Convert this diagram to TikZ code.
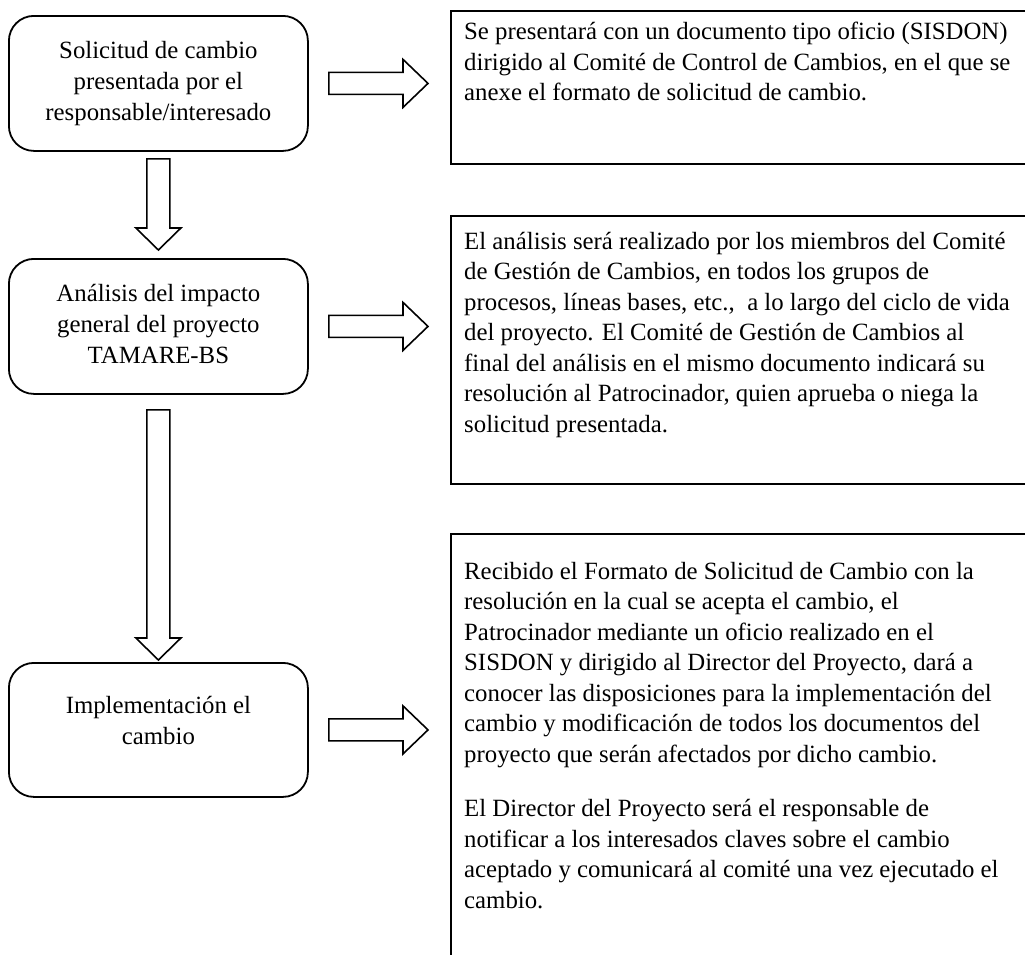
\documentclass[tikz,border=0pt]{standalone}
\usepackage{fontspec}
\setmainfont{Liberation Serif}
\usetikzlibrary{calc}
\newcommand{\blockH}[2]{\draw[blk] ($(#1)+(0,-11)$) -- ($(#2)+(-25,-11)$) -- ($(#2)+(-25,-24)$) -- (#2) -- ($(#2)+(-25,24)$) -- ($(#2)+(-25,11)$) -- ($(#1)+(0,11)$) -- cycle;}
\newcommand{\blockV}[2]{\draw[blk] ($(#1)+(-11.5,0)$) -- ($(#2)+(-11.5,-22)$) -- ($(#2)+(-22.5,-22)$) -- (#2) -- ($(#2)+(22.5,-22)$) -- ($(#2)+(11.5,-22)$) -- ($(#1)+(11.5,0)$) -- cycle;}
\begin{document}
\begin{tikzpicture}[x=1pt,y=-1pt,
  stepbox/.style={draw, line width=1.8pt, rounded corners=25pt, minimum width=299pt, minimum height=135pt, inner sep=0pt, anchor=north west},
  descbox/.style={draw, line width=1.8pt, rectangle, minimum width=600pt, inner sep=0pt, anchor=north west},
  steptext/.style={align=center, inner sep=0pt, font=\fontsize{24.8}{31}\selectfont},
  desctext/.style={align=left, inner sep=0pt, anchor=north west, font=\fontsize{24.8}{30.5}\selectfont},
  blk/.style={draw, line width=1.6pt, line join=miter, fill=white}
]
\useasboundingbox (0,0) rectangle (1025,954);
\clip (0,0) rectangle (1025,954);

% left step boxes
\node[stepbox] (s1) at (8,15) {};
\node[stepbox] (s2) at (8,258) {};
\node[stepbox, minimum height=134pt] (s3) at (8,662) {};

\node[steptext] (t1) at (s1.center) {Solicitud de cambio\\presentada por el\\responsable/interesado};
\node[steptext] (t2) at ($(s2.center)+(0,-2)$) {Análisis del impacto\\general del proyecto\\TAMARE-BS};
\node[steptext] (t3) at ($(s3.center)+(0,-9)$) {Implementación el\\cambio};

% right description boxes
\node[descbox, minimum height=153pt] (d1) at (450,10) {};
\node[descbox, minimum height=268pt] (d2) at (450,215) {};
\node[descbox, minimum height=440pt] (d3) at (450,533) {};

\node[desctext] (p1) at ($(d1.north west)+(14,12)$) {Se presentará con un documento tipo oficio (SISDON)\\dirigido al Comité de Control de Cambios, en el que se\\anexe el formato de solicitud de cambio.};
\node[desctext] (p2) at ($(d2.north west)+(14,17)$) {El análisis será realizado por los miembros del Comité\\de Gestión de Cambios, en todos los grupos de\\procesos, líneas bases, etc.,\ \ a lo largo del ciclo de vida\\del proyecto. El Comité de Gestión de Cambios al\\final del análisis en el mismo documento indicará su\\resolución al Patrocinador, quien aprueba o niega la\\solicitud presentada.};
\node[desctext] (p3) at ($(d3.north west)+(14,29)$) {Recibido el Formato de Solicitud de Cambio con la\\resolución en la cual se acepta el cambio, el\\Patrocinador mediante un oficio realizado en el\\SISDON y dirigido al Director del Proyecto, dará a\\conocer las disposiciones para la implementación del\\cambio y modificación de todos los documentos del\\proyecto que serán afectados por dicho cambio.\\[24pt]El Director del Proyecto será el responsable de\\notificar a los interesados claves sobre el cambio\\aceptado y comunicará al comité una vez ejecutado el\\cambio.};

% block arrow end points
\coordinate (h1a) at ($(s1.east)+(20,0)$);
\coordinate (h1b) at ($(s1.east -| d1.west)+(-22,0)$);
\coordinate (h2a) at ($(s2.east)+(20,0)$);
\coordinate (h2b) at ($(s2.east -| d2.west)+(-22,0)$);
\coordinate (h3a) at ($(s3.east)+(20,0)$);
\coordinate (h3b) at ($(s3.east -| d3.west)+(-22,0)$);
\coordinate (v1a) at ($(s1.south)+(0,7)$);
\coordinate (v1b) at ($(s2.north)+(0,-8)$);
\coordinate (v2a) at ($(s2.south)+(0,15)$);
\coordinate (v2b) at ($(s3.north)+(0,-2)$);

% block arrows
\blockH{h1a}{h1b}
\blockH{h2a}{h2b}
\blockH{h3a}{h3b}
\blockV{v1a}{v1b}
\blockV{v2a}{v2b}
\end{tikzpicture}
\end{document}
